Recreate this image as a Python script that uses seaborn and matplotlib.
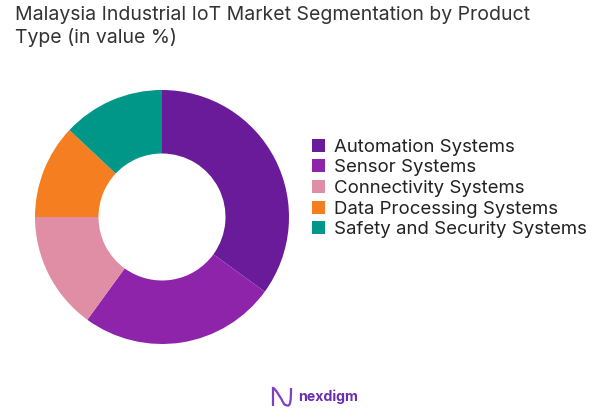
import matplotlib
matplotlib.use("Agg")
import matplotlib.pyplot as plt
from matplotlib.patches import Patch, PathPatch
from matplotlib.path import Path
import seaborn as sns

# ================= DATA =================
categories = ["Automation Systems", "Sensor Systems", "Connectivity Systems",
              "Data Processing Systems", "Safety and Security Systems"]
shares = [35, 25, 15, 12, 13]
colors = ["#6a1b9a", "#8e24aa", "#e08ea6", "#f57f20", "#009688"]
title = "Malaysia Industrial IoT Market Segmentation by Product\nType (in value %)"

sns.set_theme(style="white")
plt.rcParams["font.family"] = ["Inter", "DejaVu Sans"]

fig = plt.figure(figsize=(6.05, 4.19), dpi=100)
W, H = 605, 419

# ================= RING =================
ax = fig.add_axes([35 / W, 1 - 344 / H, 254 / W, 254 / H])
ax.pie(shares, colors=colors, startangle=90, counterclock=False, radius=1.0,
       wedgeprops=dict(width=0.5, linewidth=0))
ax.set_xlim(-1, 1)
ax.set_ylim(-1, 1)
ax.set_aspect("equal")

fig.text(15 / W, 1 - 26.5 / H, title, fontsize=14, color="#333333",
         ha="left", va="center", linespacing=1.32)

# ================= LEGEND =================
handles = [Patch(facecolor=c, edgecolor="none") for c in colors]
fig.legend(handles, categories, loc="center left", bbox_to_anchor=(312 / W, 1 - 188.5 / H),
           frameon=False, fontsize=13.4, labelcolor="#222222", handlelength=0.7,
           handleheight=0.7, handletextpad=0.48, labelspacing=0.19, borderpad=0, borderaxespad=0)

# ================= FOOTER LOGO =================
logo = fig.add_axes([271 / W, 1 - 409 / H, 23 / W, 23 / H])
logo.axis("off")
logo.set_xlim(0, 23)
logo.set_ylim(0, 23)
mark = Path([(2, 3), (2, 21), (4, 21), (10, 11), (13, 5), (19, 1), (20, 4), (20, 21)],
            [Path.MOVETO, Path.LINETO, Path.CURVE4, Path.CURVE4, Path.CURVE4, Path.CURVE4, Path.CURVE4, Path.LINETO])
logo.add_patch(PathPatch(mark, facecolor="none", edgecolor="#7f3fc0", linewidth=1.6))
fig.text(298 / W, 1 - 397 / H, "nexdigm", fontsize=10.2, fontweight="bold",
         color="#6a2fb0", ha="left", va="center")

fig.savefig("out.png", dpi=100)
